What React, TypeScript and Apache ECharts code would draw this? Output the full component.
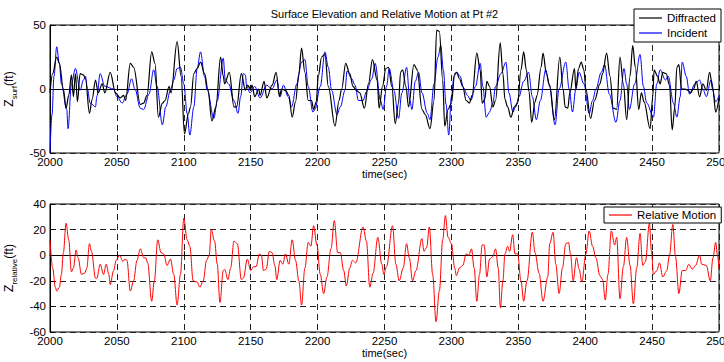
import React, { useEffect, useRef } from "react";
import * as echarts from "echarts";

const titleText = "Surface Elevation and Relative Motion at Pt #2";
const xTicks = { min: 2000, max: 2500, interval: 50 };
const topY = { min: -50, max: 50, interval: 50 };
const botY = { min: -60, max: 40, interval: 20 };

const diffracted: number[][] = [[2000,-3],[2002,12],[2005,25],[2007,20],[2010,0],[2012,-15],[2014,-5],[2016,11],[2017.5,-6],[2019,12],[2020.5,-10],[2022.5,12],[2025,11],[2026.5,8],[2029.5,-19],[2031.5,-8],[2034,7],[2036,-3],[2039,4],[2041,-3],[2045,13],[2049,-3],[2052.5,-7],[2055,-5],[2056.5,-9],[2060,20],[2062.5,17],[2067.5,-12],[2070,-11],[2072.5,-5],[2076,29],[2078.5,20],[2081,-22],[2084,-11],[2086,-9],[2089,2],[2090.5,-3],[2095,37],[2098,10],[2100.5,-35],[2103.5,-19],[2105,-14],[2107.5,12],[2110,16],[2112.5,21],[2115.5,12],[2118,0],[2121,-25],[2124,-14],[2127.5,25],[2129.5,10],[2130.5,4],[2134,13],[2137.5,-14],[2139.5,-14],[2143,12],[2146,-1],[2147.5,3],[2150,0],[2151,3],[2153,-6],[2156,0],[2157,-5],[2160,6],[2162,-7],[2166,3],[2169,13],[2171.5,-6],[2173,0],[2176,-1],[2178.5,-5],[2181,-22],[2183.5,-10],[2186,12],[2188,32],[2190.5,13],[2193,-9],[2195.5,-9],[2197,-16],[2199,-10],[2200.5,10],[2203,25],[2205.5,27],[2208,2],[2213,-29],[2216,-9],[2218,0],[2221,20],[2224,12],[2226.5,2],[2229,-1],[2231.5,-3],[2235,-15],[2238,4],[2241,23],[2244.5,7],[2246,-15],[2248.5,2],[2251,16],[2253,17],[2255.5,2],[2258,-27],[2260.5,-11],[2262,13],[2263.5,15],[2266,2],[2268,-14],[2272,19],[2274.5,15],[2278,-16],[2280.5,-20],[2284,-31],[2287,-9],[2289,46],[2291,45],[2293.5,7],[2295,-29],[2297.5,-16],[2300,-11],[2302.5,12],[2304,13],[2306,8],[2308.5,2],[2311,-9],[2313.5,-11],[2315.5,-5],[2319,28],[2321.5,15],[2323,-11],[2325,-8],[2326.5,6],[2328.5,2],[2331,-14],[2333,-9],[2336.5,36],[2338.5,12],[2340,-8],[2342,-14],[2344.5,-22],[2347,-14],[2349.5,-11],[2352,15],[2354,29],[2356,15],[2358,-2],[2360,-26],[2362.5,-10],[2364,-5],[2367,17],[2368.5,28],[2371,12],[2373.5,2],[2377,-24],[2381,25],[2383.5,0],[2385,-14],[2387,-15],[2388.5,-3],[2392,16],[2393,0],[2395,16],[2397,21],[2399,15],[2400.5,0],[2404,-23],[2407,-9],[2411,4],[2413,12],[2416,28],[2418.5,10],[2421,-15],[2423.5,-16],[2426,25],[2428.5,4],[2431,-24],[2433.5,10],[2435.5,34],[2437.5,17],[2440,-16],[2442,-3],[2444,-10],[2448.5,-31],[2450.5,-6],[2451.5,15],[2454,10],[2456,4],[2458,13],[2460.5,12],[2463,3],[2465,-32],[2467,-14],[2468.5,17],[2470,19],[2472,0],[2474.5,0],[2477,-1],[2478.5,-3],[2481,0],[2483,6],[2485.5,-6],[2488,4],[2490.5,-1],[2493,13],[2495.5,-1],[2497.5,-18],[2500,-7]];

const incident: number[][] = [[2000,-50],[2001.5,-20],[2003,10],[2005,33],[2007,20],[2008.5,4],[2012.5,-16],[2013.5,-31],[2016,4],[2019,16],[2022.5,-1],[2025,7],[2026.5,10],[2028,0],[2030,-11],[2034,-14],[2035,-6],[2037.5,12],[2041,2],[2047.5,0],[2050,-6],[2054,-11],[2057.5,-4],[2061,8],[2063.5,0],[2067.5,-15],[2070,-16],[2074,-4],[2077.5,15],[2080,2],[2084,-28],[2086.5,-14],[2090,-1],[2092.5,7],[2095,16],[2097.5,17],[2100,4],[2102.5,-19],[2104.5,-36],[2107.5,-14],[2110,16],[2112.5,29],[2115.5,10],[2117.5,-1],[2122.5,-23],[2125,-9],[2129.5,24],[2131,7],[2133.5,4],[2137.5,-9],[2140.5,-19],[2142.5,-6],[2144.5,12],[2146,11],[2147,2],[2149.5,-3],[2153,2],[2157,-7],[2162,3],[2166,0],[2169.5,7],[2172,-6],[2174.5,3],[2178,-6],[2180.5,-14],[2184.5,4],[2188,21],[2190.5,23],[2193,2],[2196.5,-18],[2198,-16],[2202,2],[2205.5,29],[2208,17],[2210.5,-1],[2214.5,-20],[2217,-14],[2220.5,-1],[2222,14],[2225.5,8],[2228,3],[2230.5,-9],[2234,-9],[2236.5,-2],[2240.5,8],[2243,20],[2247,-9],[2249,-16],[2251.5,2],[2253.5,16],[2257,-1],[2260.5,-23],[2263,-3],[2266.5,17],[2269,-9],[2270.5,-16],[2273,6],[2275.5,13],[2278,-3],[2282,-19],[2284,-24],[2287,4],[2290,25],[2292,34],[2294,15],[2296,-12],[2298,-36],[2300,-6],[2302,10],[2304,13],[2306.5,10],[2309,1],[2312,-5],[2314.5,-9],[2318,2],[2321.5,20],[2323.5,2],[2326,-22],[2328.5,-18],[2331,-11],[2333,2],[2337,12],[2340.8,21],[2343,-3],[2346,-18],[2348,-14],[2350.5,-6],[2354,6],[2357.7,13],[2360.5,-6],[2363.5,-24],[2366.5,-9],[2370.5,15],[2373,4],[2377.5,-28],[2380.5,0],[2385.5,21],[2388,0],[2390.5,-18],[2393,0],[2395.5,13],[2399,4],[2403,-19],[2405.5,-9],[2408,0],[2412,13],[2414.5,19],[2418,-4],[2423,-26],[2426,-9],[2429,16],[2431,4],[2433,-16],[2437,4],[2441,27],[2443.5,2],[2446,-11],[2451,-22],[2453.5,4],[2456,15],[2460,7],[2462,10],[2466,-11],[2468.5,-22],[2471,-6],[2472.5,21],[2475.5,10],[2478,-4],[2482,4],[2485.5,7],[2488,0],[2490.5,-6],[2494,7],[2497.5,-10],[2500,-5]];

const relative: number[][] = [[2000,12],[2002,-10],[2004,-25],[2005,-28],[2007,-25],[2008.5,-15],[2010,2],[2012,25],[2014,12],[2016,-13],[2017.5,-10],[2019.5,4],[2021,-2],[2023.5,-15],[2026,-14],[2027.5,-10],[2029.5,9],[2031,3],[2034,-18],[2035,-18],[2037.5,-7],[2040,-15],[2042,-7],[2044,-15],[2045,-23],[2047.5,-12],[2049.5,-4],[2052,0],[2054.5,-5],[2056,-3],[2057.5,-4],[2060,-28],[2062.5,-20],[2065,-4],[2067.5,5],[2070,-2],[2071.5,-2],[2073,-6],[2076,-36],[2078,-20],[2080.5,12],[2083,2],[2085,1],[2087.5,-8],[2090,-3],[2092.5,-15],[2095,-39],[2097.5,-15],[2100,29],[2102.5,12],[2104.5,7],[2107,-20],[2110,-21],[2112,-25],[2114.5,-20],[2117,-4],[2119,0],[2120.5,20],[2123,11],[2125,-7],[2127,-37],[2129.5,-12],[2130.5,-11],[2133,-19],[2135,-10],[2137.5,11],[2140,9],[2143,-19],[2144.5,-18],[2147.5,-3],[2150,-12],[2152,-9],[2154,-9],[2156.5,1],[2158,0],[2159.5,-12],[2161.5,-11],[2164,3],[2166,2],[2168,-8],[2169.5,-19],[2172,-4],[2174,-7],[2176,1],[2178.5,-7],[2181,12],[2183.5,-4],[2186,-20],[2188,-39],[2190.5,-10],[2193,10],[2195,7],[2197,23],[2199.5,8],[2202,-15],[2204.5,-30],[2207,-17],[2210,5],[2212.5,27],[2215,2],[2217,2],[2219.5,-12],[2221.5,-24],[2224,-10],[2226,-4],[2228.5,-6],[2234,22],[2236.5,11],[2239,-25],[2241.5,-14],[2245,14],[2248,-7],[2249.5,-15],[2251.5,-9],[2256,23],[2258.5,-7],[2261,-20],[2264,-10],[2266.5,9],[2268.5,-2],[2271,-20],[2273.5,-12],[2278,13],[2279.5,3],[2281.5,6],[2283.5,22],[2286,-15],[2288.5,-52],[2291,-28],[2293.5,12],[2295.5,31],[2297.5,14],[2300,9],[2302.5,-10],[2303.7,-16],[2306,-10],[2308.5,-8],[2311,1],[2313,0],[2315,5],[2317,-10],[2319,-36],[2321,-15],[2323,8],[2324.5,8],[2326.5,-17],[2328.5,-3],[2331,-1],[2333,5],[2335,-10],[2336.6,-41],[2338.5,-20],[2340,1],[2342,7],[2343.5,3],[2345.8,16],[2347.5,1],[2349.5,1],[2352,-20],[2354,-36],[2356.5,-20],[2360.5,18],[2362.5,2],[2365.5,-14],[2368.5,-36],[2372,-17],[2373.5,9],[2376,18],[2378,-7],[2380.5,-30],[2383,-10],[2385.5,9],[2387.5,10],[2389,1],[2391,-20],[2393.5,-2],[2395.5,-11],[2397.5,-21],[2400.5,1],[2403,19],[2405.5,7],[2408,-2],[2411,-16],[2413,-19],[2415,-35],[2417,-15],[2419.5,19],[2422,8],[2423.5,14],[2426,-34],[2428.5,-9],[2431,14],[2433.5,-8],[2436,-38],[2438.5,-10],[2441,17],[2443,-8],[2445,-5],[2448,25],[2449.5,3],[2451,-15],[2453.5,-12],[2455.5,-6],[2458,-17],[2461,-12],[2463,0],[2465.5,24],[2467.5,-1],[2470,-30],[2472.5,-12],[2475,-12],[2477.5,-7],[2480,-11],[2482.5,-8],[2485.5,0],[2487,-7],[2490.5,-8],[2493.5,-20],[2495.5,-2],[2497.5,10],[2499,-1],[2500,-11]];

const FONT = "Liberation Sans";

export default function App() {
  const ref = useRef<HTMLDivElement>(null);
  useEffect(() => {
    if (!ref.current) return;
    const chart = echarts.init(ref.current, undefined, { renderer: "svg" });
    const dashed = { show: true, lineStyle: { color: "#222", width: 1, type: [6, 4] as any } };
    const xAxisBase = (gridIndex: number) => ({
      type: "value",
      gridIndex,
      min: xTicks.min,
      max: xTicks.max,
      interval: xTicks.interval,
      name: "time(sec)",
      nameLocation: "middle",
      nameGap: 15,
      nameTextStyle: { fontFamily: FONT, fontSize: 11, color: "#000" },
      axisLine: { show: true, lineStyle: { color: "#000", width: 1 } },
      axisTick: { show: true, inside: true, length: 4, lineStyle: { color: "#000" } },
      axisLabel: {
        fontFamily: FONT,
        fontSize: 11.5,
        color: "#000",
        margin: 3,
        showMaxLabel: true,
        showMinLabel: true,
        hideOverlap: false,
        formatter: (v: number) => String(v),
      },
      splitLine: dashed,
    });
    const richName = {
      z: { fontFamily: FONT, fontSize: 12, color: "#000", lineHeight: 18, verticalAlign: "middle" },
      s: { fontFamily: FONT, fontSize: 8, color: "#000", lineHeight: 9, verticalAlign: "bottom" },
    };
    const yAxisBase = (gridIndex: number, r: any, sub: string) => ({
      type: "value",
      gridIndex,
      min: r.min,
      max: r.max,
      interval: r.interval,
      name: `{z|Z}{s|${sub}}{z|(ft)}`,
      nameLocation: "middle",
      nameGap: 27,
      nameTextStyle: { rich: richName },
      axisLine: { show: true, lineStyle: { color: "#000", width: 1 } },
      axisTick: { show: true, inside: true, length: 4, lineStyle: { color: "#000" } },
      axisLabel: {
        fontFamily: FONT,
        fontSize: 11.5,
        color: "#000",
        margin: 4,
        showMaxLabel: true,
        showMinLabel: true,
        formatter: (v: number) => String(v),
      },
      splitLine: dashed,
    });
    const legendBase = {
      orient: "vertical",
      icon: "rect",
      itemWidth: 23,
      itemHeight: 1.2,
      backgroundColor: "#fff",
      borderColor: "#000",
      borderWidth: 1,
      borderRadius: 0,
      textStyle: { fontFamily: FONT, fontSize: 11.5, color: "#000" },
    };
    const gridBase = {
      left: 50,
      width: 669,
      height: 128,
      show: true,
      borderColor: "#000",
      borderWidth: 1,
      backgroundColor: "transparent",
      containLabel: false,
      outerBoundsMode: "none",
    };
    const option: any = {
      animation: false,
      backgroundColor: "#fff",
      graphic: [
        {
          type: "text",
          x: 384.5,
          y: 14,
          style: {
            text: titleText,
            fontFamily: FONT,
            fontSize: 11,
            fill: "#000",
            align: "center",
            textAlign: "center",
            verticalAlign: "middle",
            textVerticalAlign: "middle",
          },
        },
      ],
      grid: [
        { ...gridBase, top: 25 },
        { ...gridBase, top: 204 },
      ],
      xAxis: [xAxisBase(0), xAxisBase(1)],
      yAxis: [yAxisBase(0, topY, "surf"), yAxisBase(1, botY, "relative")],
      legend: [
        {
          ...legendBase,
          data: ["Diffracted", "Incident"],
          left: 634,
          top: 9,
          padding: [3, 5, 3, 5],
          itemGap: 3,
        },
        {
          ...legendBase,
          data: ["Relative Motion"],
          left: 604,
          top: 207,
          padding: [2, 5, 2, 5],
        },
      ],
      series: [
        {
          name: "Incident",
          type: "line",
          xAxisIndex: 0,
          yAxisIndex: 0,
          data: incident,
          symbol: "none",
          smooth: 0.35,
          smoothMonotone: "x",
          color: "#0000ff",
          lineStyle: { color: "#0000ff", width: 1 },
        },
        {
          name: "Diffracted",
          type: "line",
          xAxisIndex: 0,
          yAxisIndex: 0,
          data: diffracted,
          symbol: "none",
          smooth: 0.35,
          smoothMonotone: "x",
          color: "#000",
          lineStyle: { color: "#000", width: 1.2 },
        },
        {
          name: "Relative Motion",
          type: "line",
          xAxisIndex: 1,
          yAxisIndex: 1,
          data: relative,
          symbol: "none",
          smooth: 0.35,
          smoothMonotone: "x",
          color: "#ff0000",
          lineStyle: { color: "#ff0000", width: 1 },
        },
      ],
    };
    chart.setOption(option);
    return () => chart.dispose();
  }, []);
  return (
    <div
      ref={ref}
      style={{ position: "fixed", left: 0, top: 0, width: 724, height: 362, background: "#fff" }}
    />
  );
}
